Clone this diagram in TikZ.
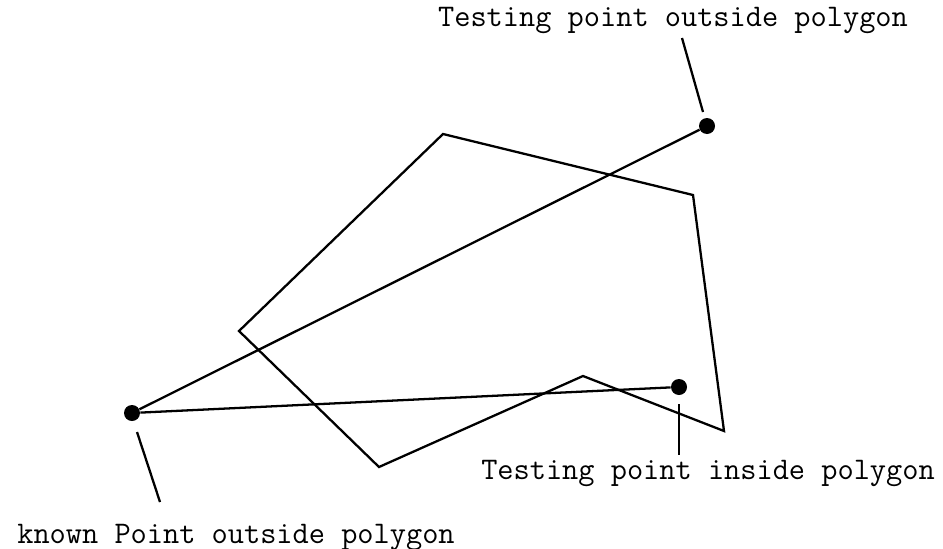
\documentclass[tikz,border=0pt]{standalone}
\usepackage{fontspec}
\usepackage{tikz}
\usetikzlibrary{positioning}

\begin{document}
\begin{tikzpicture}[
  x=0.02cm, y=-0.02cm,
  edge/.style={draw, line width=1.3pt, line join=miter},
  dot/.style={circle, fill=black, inner sep=0pt, minimum size=0.32cm},
  label/.style={font=\ttfamily\fontsize{17.9}{20}\selectfont, inner sep=0pt},
  pointer/.style={draw, line width=1.3pt}
]
\useasboundingbox (0,0) rectangle (943,548);

% polygon corners
\coordinate (p1) at (443,134);
\coordinate (p2) at (693,195);
\coordinate (p3) at (724,431);
\coordinate (p4) at (583,376);
\coordinate (p5) at (379,467);
\coordinate (p6) at (239,331);
\draw[edge] (p1) -- (p2) -- (p3) -- (p4) -- (p5) -- (p6) -- cycle;

\node[dot] (known) at (132,413) {};
\node[dot] (outside) at (707,126) {};
\node[dot] (inside) at (679,387) {};

\draw[edge] (known) -- (outside);
\draw[edge] (known) -- (inside);

\node[label] (outlabel) at (673,20) {Testing point outside polygon};
\node[label] (inlabel) at (708,473) {Testing point inside polygon};
\node[label] (knownlabel) at (236,537) {known Point outside polygon};

\coordinate (outtop) at (682,38);
\coordinate (outbot) at (703,112);
\coordinate (intop) at (679,404);
\coordinate (inbot) at (679,455);
\coordinate (knowntop) at (137,432);
\coordinate (knownbot) at (160,502);
\draw[pointer] (outtop) -- (outbot);
\draw[pointer] (intop) -- (inbot);
\draw[pointer] (knowntop) -- (knownbot);
\end{tikzpicture}
\end{document}
